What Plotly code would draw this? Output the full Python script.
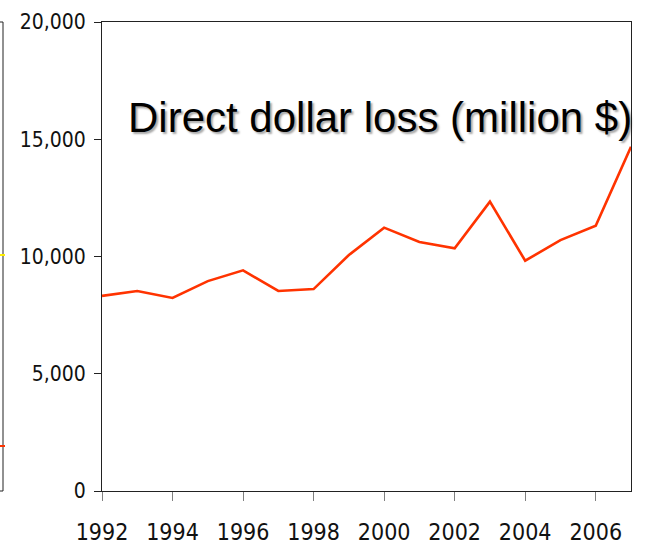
import plotly.graph_objects as go

years = list(range(1992, 2008))
loss = [8320, 8530, 8230, 8950, 9410, 8530, 8610, 10060, 11230, 10620, 10350, 12340, 9820, 10700, 11310, 14680]
x_ticks = list(range(1992, 2007, 2))
y_ticks = [0, 5000, 10000, 15000, 20000]
title_text = "Direct dollar loss (million $)"

W, H = 645, 547
L, R, T, B = 102, 14, 22, 56
pw, ph = W - L - R, H - T - B

def px(x):
    return (x - L) / pw

def py(y):
    return (H - B - y) / ph

fig = go.Figure()
fig.add_trace(go.Scatter(x=years, y=loss, mode="lines",
                         line=dict(color="#FF3300", width=2.6),
                         cliponaxis=True, showlegend=False, hoverinfo="skip"))

narrow = "Liberation Sans Narrow, Arial Narrow, DejaVu Sans Condensed, sans-serif"

fig.update_layout(
    width=W, height=H, autosize=False,
    margin=dict(l=L, r=R, t=T, b=B, pad=0, autoexpand=False),
    paper_bgcolor="white", plot_bgcolor="white",
    xaxis=dict(range=[1992, 2007], tickvals=x_ticks, ticktext=[str(v) for v in x_ticks],
               ticks="outside", ticklen=9, tickwidth=1, tickcolor="#808080",
               ticklabelstandoff=11,
               showline=True, linecolor="#222222", linewidth=1, mirror=True,
               showgrid=False, zeroline=False, automargin=False,
               tickfont=dict(family=narrow, size=23, color="#111111")),
    yaxis=dict(range=[0, 20000], tickvals=y_ticks, tickformat=",",
               ticks="outside", ticklen=7, tickwidth=1, tickcolor="#222222",
               ticklabelstandoff=4,
               showline=True, linecolor="#222222", linewidth=1, mirror=True,
               showgrid=False, zeroline=False, automargin=False,
               tickfont=dict(family=narrow, size=21, color="#111111")),
    font=dict(family="Liberation Sans, Arial, sans-serif"),
)

tx, ty = px(380), py(117)
fig.add_annotation(x=tx, y=ty, xref="paper", yref="paper", text=title_text,
                   showarrow=False, xanchor="center", yanchor="middle",
                   font=dict(family="Liberation Sans, Arial, sans-serif", size=42, color="black",
                             shadow="2px 2px 2px rgba(0,0,0,0.35)"))

# fragment of neighbouring chart frame at far left
shapes = [
    dict(type="line", xref="paper", yref="paper", x0=px(3), x1=px(3), y0=py(22), y1=py(491),
         line=dict(color="#222222", width=1)),
    dict(type="line", xref="paper", yref="paper", x0=px(0), x1=px(3), y0=py(22), y1=py(22),
         line=dict(color="#222222", width=1)),
    dict(type="line", xref="paper", yref="paper", x0=px(0), x1=px(3), y0=py(491), y1=py(491),
         line=dict(color="#222222", width=1)),
    dict(type="line", xref="paper", yref="paper", x0=px(0), x1=px(5), y0=py(255), y1=py(255),
         line=dict(color="#FFEE00", width=2)),
    dict(type="line", xref="paper", yref="paper", x0=px(0), x1=px(5), y0=py(446), y1=py(446),
         line=dict(color="#FF3300", width=2)),
]
fig.update_layout(shapes=shapes)

fig.write_html("out.html", config={"responsive": False, "displayModeBar": False},
               post_script="document.body.style.margin='0';document.body.style.padding='0';")
